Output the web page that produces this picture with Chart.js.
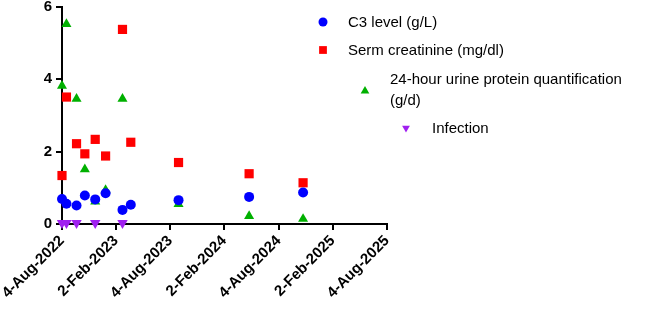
<!DOCTYPE html>
<html>
<head>
<meta charset="utf-8">
<script src="https://cdn.jsdelivr.net/npm/chart.js@4.4.1/dist/chart.umd.min.js"></script>
<style>
  html, body { margin: 0; padding: 0; background: #fff; }
  #wrap { width: 669px; height: 310px; position: relative; }
</style>
</head>
<body>
<div id="wrap"><canvas id="grafico"></canvas></div>
<script>
// datas das medidas (dias a partir de 4-Aug-2022 no eixo)
const datasC3 = ['2022-08-04', '2022-08-19', '2022-09-22', '2022-10-20', '2022-11-24', '2022-12-29', '2023-02-24', '2023-03-24', '2023-09-01', '2024-04-26', '2024-10-25'];
const valoresC3 = [0.69, 0.56, 0.51, 0.79, 0.68, 0.85, 0.39, 0.53, 0.66, 0.75, 0.87];

const datasCreatinina = ['2022-08-04', '2022-08-19', '2022-09-22', '2022-10-20', '2022-11-24', '2022-12-29', '2023-02-24', '2023-03-24', '2023-09-01', '2024-04-26', '2024-10-25'];
const valoresCreatinina = [1.34, 3.51, 2.22, 1.94, 2.34, 1.88, 5.38, 2.26, 1.70, 1.39, 1.14];

const datasProteina = ['2022-08-04', '2022-08-19', '2022-09-22', '2022-10-20', '2022-11-24', '2022-12-29', '2023-02-24', '2023-09-01', '2024-04-26', '2024-10-25'];
const valoresProteina = [3.82, 5.53, 3.46, 1.51, 0.62, 0.94, 3.46, 0.55, 0.22, 0.14];

const datasInfeccao = ['2022-08-04', '2022-08-19', '2022-09-22', '2022-11-24', '2023-02-24'];
const valoresInfeccao = [0.03, 0.03, 0.03, 0.03, 0.03];

const ticksDatas = ['2022-08-04', '2023-02-02', '2023-08-04', '2024-02-02', '2024-08-04', '2025-02-02', '2025-08-04'];
const ticksRotulos = ['4-Aug-2022', '2-Feb-2023', '4-Aug-2023', '2-Feb-2024', '4-Aug-2024', '2-Feb-2025', '4-Aug-2025'];
const ticksY = [0, 2, 4, 6];

const nomesSeries = ['C3 level (g/L)', 'Serm creatinine (mg/dl)', '24-hour urine protein quantification\n(g/d)', 'Infection'];

const inicio = Date.UTC(2022, 7, 4);
function dias(iso) {
    const p = iso.split('-').map(Number);
    return Math.round((Date.UTC(p[0], p[1] - 1, p[2]) - inicio) / 86400000);
}
function pontos(datas, valores) {
    return datas.map((d, i) => ({ x: dias(d), y: valores[i] }));
}

const fonte = 'Arial, "Liberation Sans", sans-serif';

// legenda no estilo do original (recuos diferentes por item)
const legendaPlugin = {
    id: 'legendaManual',
    afterDraw(chart) {
        const ctx = chart.ctx;
        const itens = [
            { mx: 323, my: 22, tx: 348, ty: 23 },
            { mx: 323, my: 50, tx: 348, ty: 51 },
            { mx: 365, my: 91, tx: 390, ty: 80 },
            { mx: 406, my: 128, tx: 432, ty: 129 }
        ];
        ctx.save();
        itens.forEach((it, i) => {
            const ds = chart.data.datasets[i];
            ctx.fillStyle = ds.backgroundColor;
            ctx.strokeStyle = ds.backgroundColor;
            Chart.helpers.drawPoint(ctx, {
                pointStyle: ds.pointStyle,
                radius: ds.legendRadius,
                rotation: ds.pointRotation || 0,
                borderWidth: 0
            }, it.mx, it.my);
            ctx.fillStyle = '#000';
            ctx.font = '15px ' + fonte;
            ctx.textBaseline = 'middle';
            ctx.textAlign = 'left';
            nomesSeries[i].split('\n').forEach((linha, j) => {
                ctx.fillText(linha, it.tx, it.ty + j * 21);
            });
        });
        ctx.restore();
    }
};

new Chart(document.getElementById('grafico'), {
    type: 'scatter',
    data: {
        datasets: [
            {
                label: nomesSeries[0],
                data: pontos(datasC3, valoresC3),
                clip: false,
                pointStyle: 'circle',
                pointRadius: 5,
                legendRadius: 4.5,
                backgroundColor: '#0000ff',
                borderColor: '#0000ff',
                borderWidth: 0
            },
            {
                label: nomesSeries[1],
                data: pontos(datasCreatinina, valoresCreatinina),
                clip: false,
                pointStyle: 'rect',
                pointRadius: 6.5,
                legendRadius: 5.5,
                backgroundColor: '#ff0000',
                borderColor: '#ff0000',
                borderWidth: 0
            },
            {
                label: nomesSeries[2],
                data: pontos(datasProteina, valoresProteina),
                clip: false,
                pointStyle: 'triangle',
                pointRadius: 5.8,
                legendRadius: 5,
                backgroundColor: '#00b000',
                borderColor: '#00b000',
                borderWidth: 0
            },
            {
                label: nomesSeries[3],
                data: pontos(datasInfeccao, valoresInfeccao),
                clip: false,
                pointStyle: 'triangle',
                pointRotation: 180,
                pointRadius: 6,
                legendRadius: 4.5,
                backgroundColor: '#a020f0',
                borderColor: '#a020f0',
                borderWidth: 0
            }
        ]
    },
    options: {
        responsive: true,
        maintainAspectRatio: false,
        animation: false,
        layout: { padding: { top: 7, right: 282, left: 0, bottom: 0 } },
        plugins: {
            legend: { display: false },
            tooltip: { enabled: false }
        },
        scales: {
            x: {
                type: 'linear',
                min: 0,
                max: dias('2025-08-04'),
                afterBuildTicks: (scale) => {
                    scale.ticks = ticksDatas.map(d => ({ value: dias(d) }));
                },
                afterFit: (scale) => { scale.height = 86; },
                ticks: {
                    autoSkip: false,
                    maxRotation: 45,
                    minRotation: 45,
                    color: '#000',
                    padding: 2,
                    font: { family: fonte, size: 15, weight: 'bold' },
                    callback: (v) => {
                        const i = ticksDatas.findIndex(d => dias(d) === v);
                        return i >= 0 ? ticksRotulos[i] : '';
                    }
                },
                grid: {
                    display: true,
                    drawOnChartArea: false,
                    drawTicks: true,
                    tickLength: 6,
                    color: '#000',
                    lineWidth: 2
                },
                border: { display: true, color: '#000', width: 2 }
            },
            y: {
                min: 0,
                max: 6,
                afterBuildTicks: (scale) => {
                    scale.ticks = ticksY.map(v => ({ value: v }));
                },
                afterFit: (scale) => {
                    scale.width = 62;
                    scale.paddingTop = 0;
                    scale.paddingBottom = 0;
                },
                ticks: {
                    color: '#000',
                    padding: 4,
                    font: { family: fonte, size: 15, weight: 'bold' }
                },
                grid: {
                    display: true,
                    drawOnChartArea: false,
                    drawTicks: true,
                    tickLength: 6,
                    color: '#000',
                    lineWidth: 2
                },
                border: { display: true, color: '#000', width: 2 }
            }
        }
    },
    plugins: [legendaPlugin]
});
</script>
</body>
</html>
